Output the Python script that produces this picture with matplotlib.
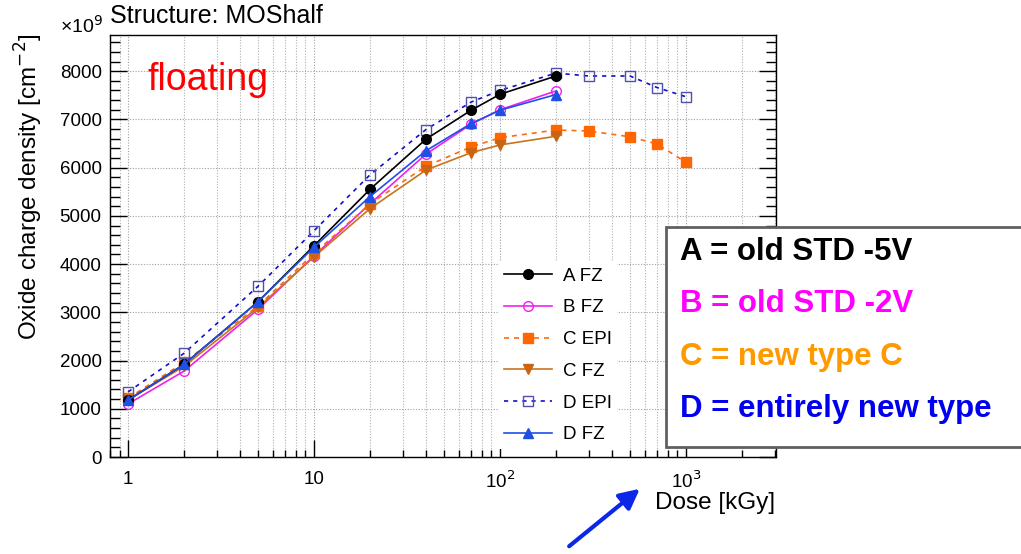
import numpy as np
import matplotlib
matplotlib.use("Agg")
import matplotlib.pyplot as plt
from matplotlib.ticker import LogLocator, MultipleLocator, FixedLocator, NullFormatter
from matplotlib.patches import Rectangle, FancyArrowPatch

plt.rcParams['font.family'] = ['Liberation Sans', 'DejaVu Sans']

# dose points [kGy]
dose_short = [1, 2, 5, 10, 20, 40, 70, 100, 200]
dose_long = [1, 2, 5, 10, 20, 40, 70, 100, 200, 300, 500, 700, 1000]

# oxide charge density [1e9 cm^-2]
a_fz = [1180, 1920, 3220, 4380, 5550, 6590, 7190, 7520, 7900]
b_fz = [1100, 1780, 3060, 4170, 5250, 6280, 6900, 7200, 7590]
c_epi = [1220, 1960, 3130, 4220, 5250, 6030, 6430, 6620, 6780, 6760, 6640, 6490, 6110]
c_fz = [1180, 1880, 3100, 4150, 5150, 5950, 6310, 6470, 6650]
d_epi = [1350, 2150, 3540, 4690, 5850, 6790, 7360, 7600, 7960, 7900, 7900, 7660, 7470]
d_fz = [1180, 1920, 3220, 4350, 5400, 6350, 6915, 7190, 7515]

legend_labels = ["A FZ", "B FZ", "C EPI", "C FZ", "D EPI", "D FZ"]
box_lines = ["A = old STD -5V", "B = old STD -2V", "C = new type C", "D = entirely new type"]
box_colors = ["black", "#ff00ff", "#ff9900", "#0000ee"]

fig = plt.figure(figsize=(10.21, 5.54), dpi=100)
ax = fig.add_axes([110/1021, 97/554, 666/1021, 422/554])

lw = 1.2
ax.plot(dose_short, a_fz, color="black", lw=lw, ls="-", marker="o", ms=7,
        mfc="black", mec="black", label=legend_labels[0], zorder=5)
ax.plot(dose_short, b_fz, color="#ee22ee", lw=lw, ls="-", marker="o", ms=7,
        mfc="none", mec="#ee22ee", label=legend_labels[1], zorder=4)
ax.plot(dose_long, c_epi, color="#ff6a10", lw=lw, ls=(0, (3, 3)), marker="s", ms=7.5,
        mfc="#ff6600", mec="#ff6600", label=legend_labels[2], zorder=4)
ax.plot(dose_short, c_fz, color="#c8741e", lw=lw, ls="-", marker="v", ms=7,
        mfc="#c86414", mec="#c86414", label=legend_labels[3], zorder=4)
ax.plot(dose_long, d_epi, color="#1010c8", lw=lw, ls=(0, (2.5, 3)), marker="s", ms=7.5,
        mfc="none", mec="#5050b0", label=legend_labels[4], zorder=4)
ax.plot(dose_short, d_fz, color="#1e50e6", lw=lw, ls="-", marker="^", ms=7,
        mfc="#1e50e6", mec="#1e50e6", label=legend_labels[5], zorder=5)

ax.set_xscale("log")
ax.set_xlim(0.8, 3050)
ax.set_ylim(0, 8750)

ax.xaxis.set_major_locator(FixedLocator([1, 10, 100, 1000]))
ax.set_xticklabels(["1", "10", "10$^2$", "10$^3$"])
ax.xaxis.set_minor_locator(LogLocator(base=10, subs=np.arange(2, 10), numticks=20))
ax.xaxis.set_minor_formatter(NullFormatter())
ax.yaxis.set_major_locator(MultipleLocator(1000))
ax.yaxis.set_minor_locator(MultipleLocator(200))

ax.grid(True, which="major", axis="both", ls=(0, (1, 1.5)), color="#a0a0a0", lw=0.8)
ax.grid(True, which="minor", axis="x", ls=(0, (1, 1.5)), color="#b0b0b0", lw=0.8)

ax.tick_params(which="major", direction="in", length=12, width=1, left=True, right=True,
               bottom=True, top=False, labelsize=13.5, pad=10)
ax.tick_params(which="minor", direction="in", length=5, width=1, left=True, right=True,
               bottom=True, top=False)
ax.tick_params(axis="y", which="minor", length=7)
ax.tick_params(axis="y", which="major", pad=6)
for s in ax.spines.values():
    s.set_linewidth(1.0)

leg = ax.legend(loc="upper left", bbox_to_anchor=(498/1021, (554-262)/554),
                bbox_transform=fig.transFigure, borderaxespad=0, borderpad=0.3,
                fontsize=13.5, handlelength=2.6, handletextpad=0.55, labelspacing=0.78,
                frameon=True, fancybox=False, framealpha=1, facecolor="white",
                edgecolor="none")

fig.text(110/1021, 1 - 16/554, "Structure: MOShalf", fontsize=18, ha="left", va="center")
fig.text(60/1021, 1 - 26/554, "×10$^{9}$", fontsize=14, ha="left", va="center")
fig.text(148/1021, 1 - 80/554, "floating", fontsize=27, color="red", ha="left", va="center")
fig.text(29/1021, 1 - 187/554, "Oxide charge density [cm$^{-2}$]", fontsize=17.5,
         rotation=90, ha="center", va="center")
fig.text(775/1021, 1 - 503/554, "Dose [kGy]", fontsize=17.5, ha="right", va="center")

# annotation box
fig.patches.append(Rectangle((666/1021, 1 - 447/554), 360/1021, 220/554,
                             transform=fig.transFigure, facecolor="white",
                             edgecolor="#606060", lw=2, zorder=10))
for i, (txt, col) in enumerate(zip(box_lines, box_colors)):
    fig.text(680/1021, 1 - (252 + 52.5*i)/554, txt, fontsize=22.5, fontweight="bold",
             color=col, ha="left", va="center", zorder=11)

# blue arrow
fig.patches.append(FancyArrowPatch((567/1021, 1 - 548/554), (642/1021, 1 - 487/554),
                                   transform=fig.transFigure, arrowstyle="-|>",
                                   mutation_scale=30, color="#0a28e6", lw=3, zorder=10))

fig.savefig("out.png", dpi=100)
